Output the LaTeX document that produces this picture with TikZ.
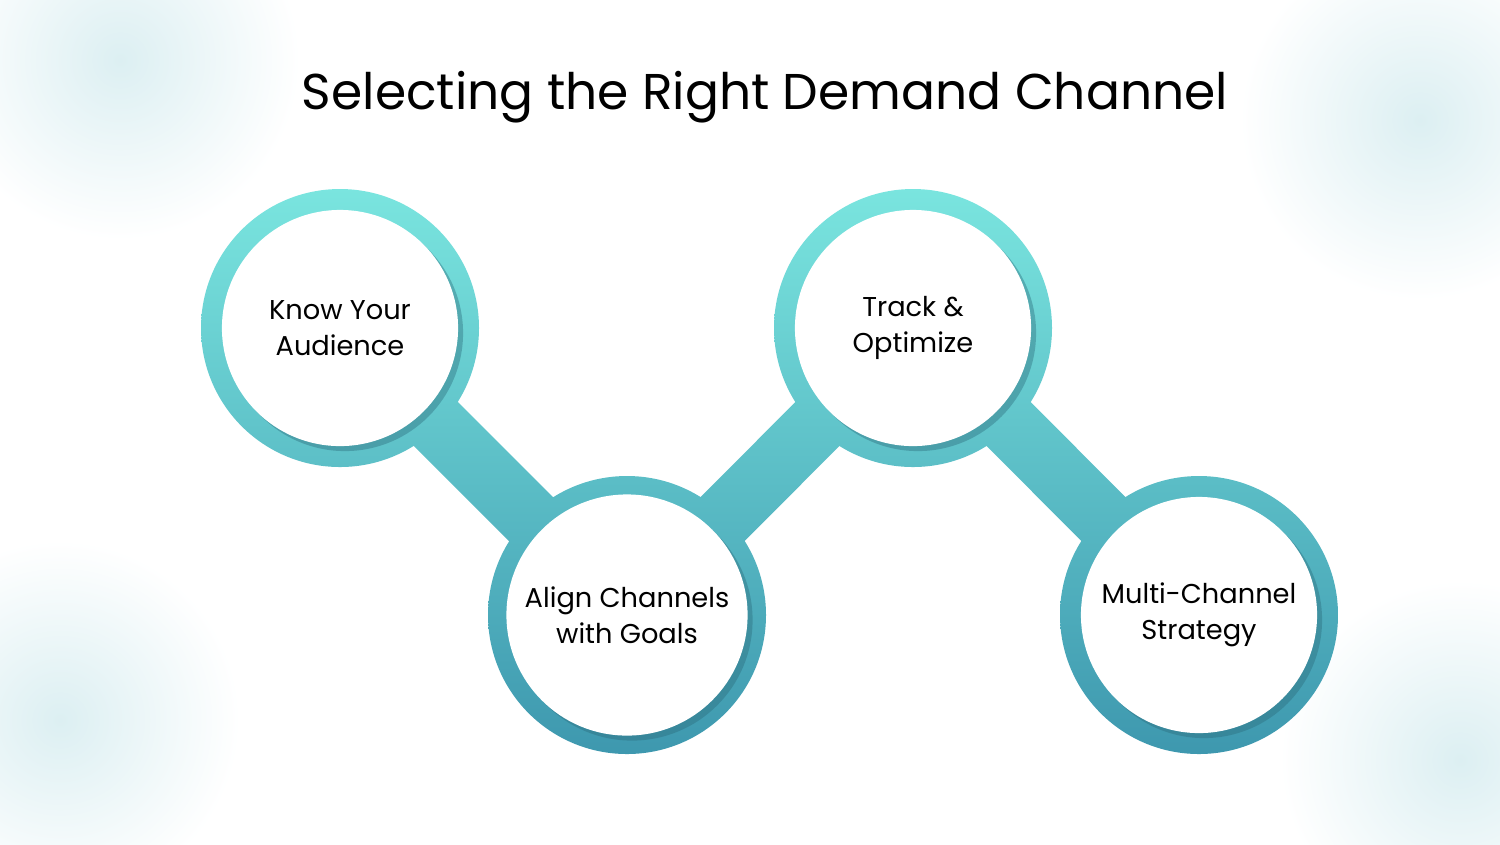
\documentclass[tikz,border=0pt]{standalone}
\usepackage{fontspec}
\setmainfont{Poppins}
\usetikzlibrary{shadows}
\definecolor{ringtop}{HTML}{7EEAE2}
\definecolor{ringbot}{HTML}{3D97AE}
\definecolor{blob}{HTML}{DCEFF2}
\tikzset{
  stepcircle/.style={circle, fill=white, minimum size=2.36cm, align=center, font=\fontsize{7.75pt}{10.2pt}\selectfont,
    drop shadow={shadow xshift=0.05cm, shadow yshift=-0.05cm, fill=ringbot!70!black, opacity=0.4}},
}
\newcommand{\ringshade}{\shade[top color=ringtop, bottom color=ringbot] (0,150) rectangle (1500,760);}
\begin{document}
\begin{tikzpicture}[x=0.01cm, y=-0.01cm]
  \useasboundingbox (0,0) rectangle (1500,844);
  % soft background
  \fill[white] (0,0) rectangle (1500,844);
  \foreach \bx/\by in {120/60, 1420/120, 60/720, 1460/760}
    \shade[inner color=blob, outer color=white] (\bx,\by) circle (180);
  % bars
  \foreach \ax/\ay/\cx/\cy/\px/\py in {340/328/627/615/22/-22, 627/615/913/328/22/22, 913/328/1199/615/22/-22} {
    \begin{scope}
      \clip (\ax+\px,\ay+\py) -- (\cx+\px,\cy+\py) -- (\cx-\px,\cy-\py) -- (\ax-\px,\ay-\py) -- cycle;
      \ringshade
    \end{scope}
  }
  % rings
  \foreach \cx/\cy in {340/328, 627/615, 913/328, 1199/615} {
    \begin{scope}
      \clip (\cx,\cy) circle (139);
      \ringshade
    \end{scope}
  }
  % steps
  \node[stepcircle] (audience) at (340,328) {Know Your\\Audience};
  \node[stepcircle] (goals) at (627,615) {Align Channels\\with Goals};
  \node[stepcircle] (track) at (913,328) {Track \&\\Optimize};
  \node[stepcircle] (multi) at (1199,615) {Multi-Channel\\Strategy};
  \node[font=\fontsize{14.3pt}{17pt}\selectfont] (title) at (765,97) {Selecting the Right Demand Channel};
\end{tikzpicture}
\end{document}
